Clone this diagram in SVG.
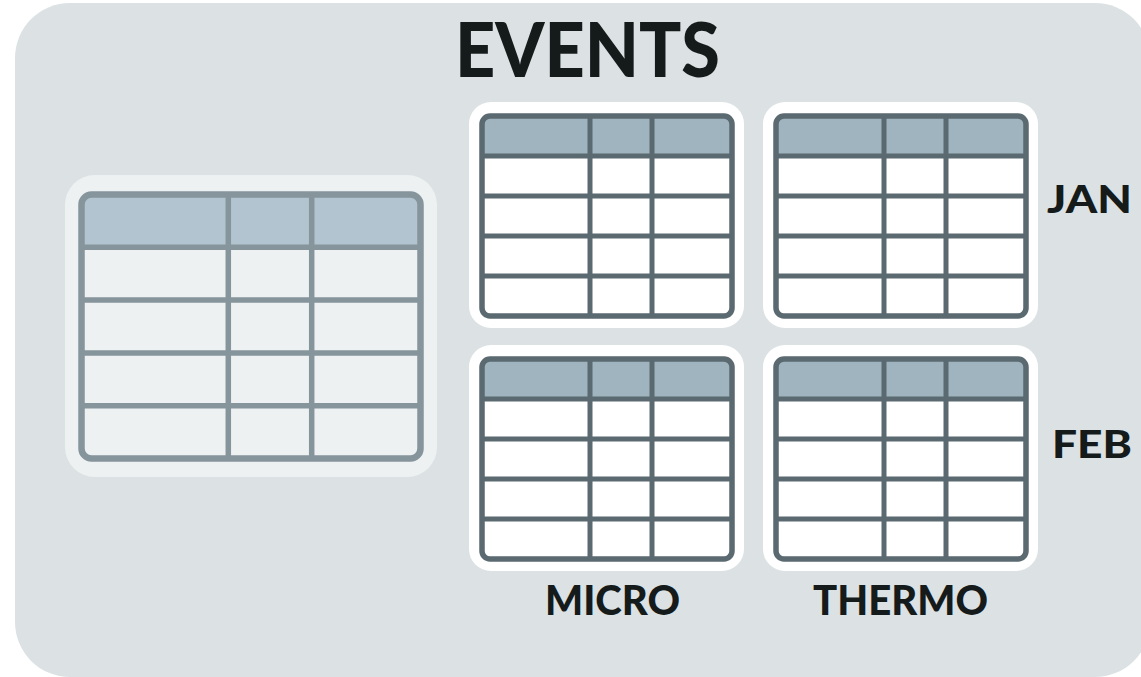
<svg xmlns="http://www.w3.org/2000/svg" xmlns:xlink="http://www.w3.org/1999/xlink" width="1141" height="677" viewBox="0 0 1141 677">
  <style>
    .label { font-family: Lato, "Open Sans", "Liberation Sans", sans-serif; font-weight: 900; fill: #151b1b; }
    .halo { fill: #ffffff; }
    .body { fill: #ffffff; }
    .head { fill: #9fb4bf; }
    .grid { stroke: #5b6a71; stroke-width: 5; fill: none; }
    .frame { stroke: #5b6a71; stroke-width: 5.5; fill: none; }
    .halo-l { fill: #edf1f2; }
    .body-l { fill: #edf1f2; }
    .head-l { fill: #b2c4cf; }
    .grid-l { stroke: #86949c; stroke-width: 5.5; fill: none; }
    .frame-l { stroke: #86949c; stroke-width: 6.5; fill: none; }
  </style>
  <defs>
    <!-- small monthly table: 3 columns, header + 4 rows -->
    <g id="small-table">
      <rect class="halo" x="-13" y="-14" width="275" height="226" rx="22"/>
      <rect class="body" x="0" y="0" width="250" height="200" rx="8"/>
      <path class="head" d="M0,40 V8 A8,8 0 0 1 8,0 H242 A8,8 0 0 1 250,8 V40 Z"/>
      <path class="grid" d="M0,40 H250 M0,80 H250 M0,120 H250 M0,160 H250 M108,0 V200 M170,0 V200"/>
      <rect class="frame" x="0" y="0" width="250" height="200" rx="8"/>
    </g>
  </defs>

  <!-- panel -->
  <rect x="15" y="3" width="1135" height="674" rx="55" fill="#dce2e4"/>

  <text class="label" x="587.5" y="77" font-size="76" text-anchor="middle" textLength="265" lengthAdjust="spacingAndGlyphs">EVENTS</text>

  <!-- combined events table -->
  <g id="events-table">
    <rect class="halo-l" x="65" y="175" width="372" height="302" rx="30"/>
    <rect class="body-l" x="81.5" y="194.5" width="339" height="264" rx="10"/>
    <path class="head-l" d="M81.5,247.3 V204.5 A10,10 0 0 1 91.5,194.5 H410.5 A10,10 0 0 1 420.5,204.5 V247.3 Z"/>
    <path class="grid-l" d="M81.5,247.3 H420.5 M81.5,300.1 H420.5 M81.5,352.9 H420.5 M81.5,405.7 H420.5 M228.3,194.5 V458.5 M311.7,194.5 V458.5"/>
    <rect class="frame-l" x="81.5" y="194.5" width="339" height="264" rx="10"/>
  </g>

  <g id="micro-jan"><use xlink:href="#small-table" href="#small-table" x="482" y="116"/></g>
  <g id="thermo-jan"><use xlink:href="#small-table" href="#small-table" x="776" y="116"/></g>
  <g id="micro-feb"><use xlink:href="#small-table" href="#small-table" x="482" y="359"/></g>
  <g id="thermo-feb"><use xlink:href="#small-table" href="#small-table" x="776" y="359"/></g>

  <!-- row / column labels -->
  <text class="label" x="1047" y="213" font-size="38" textLength="85" lengthAdjust="spacingAndGlyphs">JAN</text>
  <text class="label" x="1052" y="458" font-size="38" textLength="80" lengthAdjust="spacingAndGlyphs">FEB</text>
  <text class="label" x="545" y="615" font-size="41" textLength="135" lengthAdjust="spacingAndGlyphs">MICRO</text>
  <text class="label" x="813" y="615" font-size="41" textLength="175" lengthAdjust="spacingAndGlyphs">THERMO</text>
</svg>
